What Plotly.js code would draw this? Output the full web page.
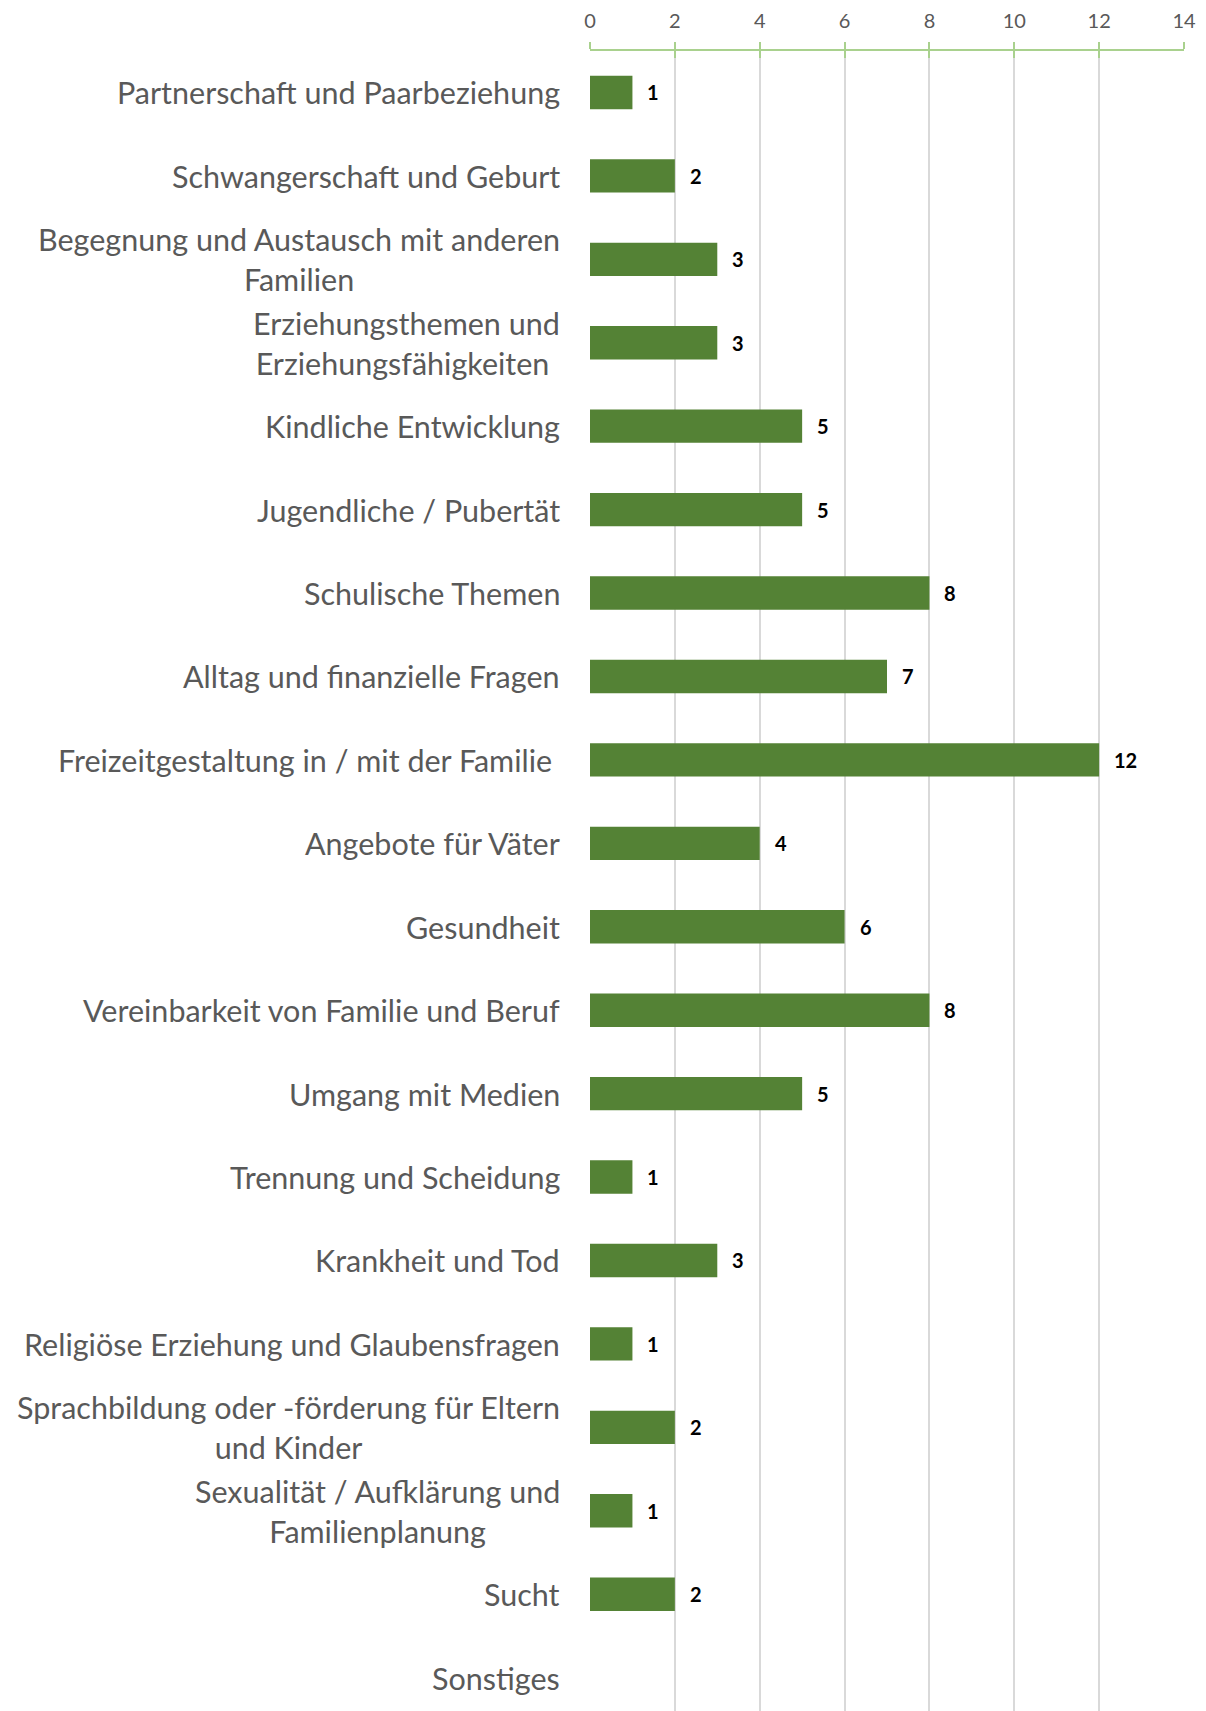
<!DOCTYPE html>
<html>
<head>
<meta charset="utf-8">
<script src="https://cdn.plot.ly/plotly-3.0.1.min.js"></script>
<style>html,body{margin:0;padding:0;background:#fff;}</style>
</head>
<body>
<div id="chart" style="width:1206px;height:1711px;"></div>
<script>
const categories = [
  "Partnerschaft und Paarbeziehung",
  "Schwangerschaft und Geburt",
  "Begegnung und Austausch mit anderen<br>Familien",
  "Erziehungsthemen und<br>Erziehungsfähigkeiten\u00a0",
  "Kindliche Entwicklung",
  "Jugendliche / Pubertät",
  "Schulische Themen",
  "Alltag und finanzielle Fragen",
  "Freizeitgestaltung in / mit der Familie\u00a0",
  "Angebote für Väter",
  "Gesundheit",
  "Vereinbarkeit von Familie und Beruf",
  "Umgang mit Medien",
  "Trennung und Scheidung",
  "Krankheit und Tod",
  "Religiöse Erziehung und Glaubensfragen",
  "Sprachbildung oder -förderung für Eltern<br>und Kinder",
  "Sexualität / Aufklärung und<br>Familienplanung",
  "Sucht",
  "Sonstiges"
];
const values = [1, 2, 3, 3, 5, 5, 8, 7, 12, 4, 6, 8, 5, 1, 3, 1, 2, 1, 2, 0];
const xTicks = [0, 2, 4, 6, 8, 10, 12, 14];

const FONT = "Lato, 'Open Sans', sans-serif";
const idx = categories.map((c, i) => i);

const bar = {
  type: 'bar',
  orientation: 'h',
  x: values,
  y: idx,
  marker: {color: '#548235'},
  hoverinfo: 'skip'
};

const annotations = [];
categories.forEach((c, i) => {
  annotations.push({
    xref: 'paper', yref: 'y', x: 0, y: i,
    xanchor: 'right', yanchor: 'middle', xshift: -28,
    text: c, align: 'center', showarrow: false,
    font: {family: FONT, size: 30.5, color: '#595959'}
  });
  if (values[i] > 0) {
    annotations.push({
      xref: 'x', yref: 'y', x: values[i], y: i,
      xanchor: 'left', yanchor: 'middle', xshift: 13,
      text: '<b>' + values[i] + '</b>', showarrow: false,
      font: {family: FONT, size: 20, color: '#000000'}
    });
  }
});

const layout = {
  width: 1206, height: 1711,
  margin: {l: 590, r: 22, t: 51, b: 0, pad: 0},
  paper_bgcolor: '#ffffff', plot_bgcolor: '#ffffff',
  showlegend: false,
  bargap: 0.6,
  font: {family: FONT, color: '#595959'},
  xaxis: {
    side: 'top', range: [0, 14], tickvals: xTicks, ticktext: xTicks.map(String),
    showgrid: true, gridcolor: '#D9D9D9', gridwidth: 2, zeroline: false,
    showline: true, linecolor: '#A9D18E', linewidth: 2.5,
    ticks: 'outside', ticklen: 7, tickwidth: 2, tickcolor: '#A9D18E',
    tickfont: {family: FONT, size: 20, color: '#595959'},
    ticklabelstandoff: 6, fixedrange: true
  },
  xaxis2: {
    overlaying: 'x', matches: 'x', side: 'top', range: [0, 14], tickvals: xTicks,
    showgrid: false, zeroline: false, showline: false, showticklabels: false,
    ticks: 'inside', ticklen: 7, tickwidth: 2, tickcolor: '#A9D18E'
  },
  yaxis: {
    range: [19.40, -0.497], showticklabels: false, showgrid: false, zeroline: false,
    showline: false, ticks: '', fixedrange: true
  },
  annotations: annotations
};

const dummy = {type: 'scatter', x: [0], y: [0], xaxis: 'x2', mode: 'markers', marker: {opacity: 0}, hoverinfo: 'skip'};

Plotly.newPlot('chart', [bar, dummy], layout, {displayModeBar: false, staticPlot: true});
</script>
</body>
</html>
